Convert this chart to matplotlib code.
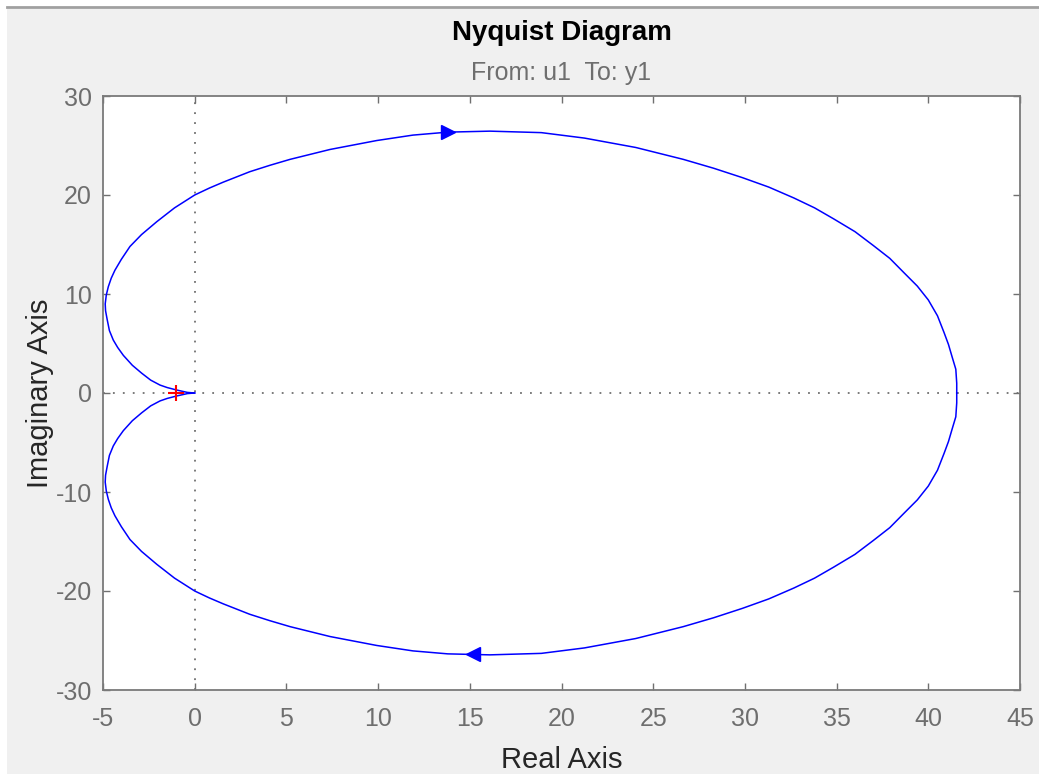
import numpy as np
import matplotlib.pyplot as plt
from matplotlib.patches import Rectangle
from matplotlib.lines import Line2D

plt.rcParams['font.family'] = ['Liberation Sans', 'DejaVu Sans']
plt.rcParams['axes.unicode_minus'] = False

# Nyquist curve
# upper branch (negative frequencies), from origin round to the real axis
re_upper = [0.0, -0.4, -0.98, -1.5, -1.89, -2.4, -2.89, -3.4, -3.89, -4.2, -4.44, -4.65,
            -4.77, -4.86, -4.88, -4.82, -4.71, -4.55, -4.35, -4.0, -3.53, -2.9, -2.07, -1.1,
            0.0, 0.8, 1.56, 3.0, 4.1, 5.2, 7.38, 9.92, 11.9, 13.8, 16.1, 18.9, 21.25, 24.05,
            26.64, 28.3, 29.87, 31.3, 32.67, 33.8, 34.83, 36.0, 37.0, 37.9, 38.7, 39.4, 40.0,
            40.5, 40.86, 41.1, 41.29, 41.5, 41.55, 41.55]
im_upper = [0.0, 0.06, 0.3, 0.55, 0.8, 1.3, 2.0, 2.8, 3.8, 4.6, 5.35, 6.3,
            7.4, 8.3, 9.0, 9.9, 10.74, 11.6, 12.4, 13.5, 14.8, 16.0, 17.3, 18.7,
            20.0, 20.7, 21.3, 22.35, 23.0, 23.6, 24.6, 25.5, 26.05, 26.35, 26.45, 26.3, 25.75, 24.8,
            23.6, 22.7, 21.75, 20.8, 19.7, 18.7, 17.6, 16.3, 14.9, 13.6, 12.1, 10.8, 9.4,
            7.8, 6.1, 4.9, 3.7, 2.4, 1.0, 0.0]
# lower branch (positive frequencies), from the real axis back to origin
re_lower = [41.55, 41.55, 41.5, 41.29, 41.1, 40.86, 40.5, 40.0, 39.4, 38.7, 37.9, 37.0,
            36.0, 34.83, 33.8, 32.67, 31.3, 29.87, 28.3, 26.64, 24.05, 21.25, 18.9, 16.1,
            13.8, 11.9, 9.92, 7.38, 5.2, 4.1, 3.0, 1.56, 0.8, 0.0, -1.1, -2.07, -2.9, -3.53,
            -4.0, -4.35, -4.55, -4.71, -4.82, -4.88, -4.86, -4.77, -4.65, -4.44, -4.2, -3.89,
            -3.4, -2.89, -2.4, -1.89, -1.5, -0.98, -0.4, 0.0]
im_lower = [0.0, -1.0, -2.4, -3.7, -4.9, -6.1, -7.8, -9.4, -10.8, -12.1, -13.6, -14.9,
            -16.3, -17.6, -18.7, -19.7, -20.8, -21.75, -22.7, -23.6, -24.8, -25.75, -26.3, -26.45,
            -26.35, -26.05, -25.5, -24.6, -23.6, -23.0, -22.35, -21.3, -20.7, -20.0, -18.7, -17.3,
            -16.0, -14.8, -13.5, -12.4, -11.6, -10.74, -9.9, -9.0, -8.3, -7.4, -6.3, -5.35, -4.6,
            -3.8, -2.8, -2.0, -1.3, -0.8, -0.55, -0.3, -0.06, 0.0]

arrow_upper = (13.8, 26.4)
arrow_lower = (15.2, -26.4)
critical = (-1, 0)

xticks = [-5, 0, 5, 10, 15, 20, 25, 30, 35, 40, 45]
yticks = [-30, -20, -10, 0, 10, 20, 30]

fig = plt.figure(figsize=(10.39, 7.74), dpi=100, facecolor='white')
fig.patches.append(Rectangle((7/1039, 0), 1, (774-9)/774, transform=fig.transFigure,
                             facecolor='#f0f0f0', edgecolor='none', zorder=-10))
fig.lines.append(Line2D([7/1039, 1], [(774-7)/774]*2, transform=fig.transFigure,
                        color='#a0a0a0', lw=2))

ax = fig.add_axes([103/1039, 84/774, 917/1039, 594/774])
ax.set_facecolor('white')

ax.axhline(0, color='#707070', lw=1.3, ls=(0, (1, 4.5)), zorder=1)
ax.axvline(0, color='#707070', lw=1.3, ls=(0, (1, 4.5)), zorder=1)

ax.plot(re_upper, im_upper, color='#0000ff', lw=1.1, zorder=3)
ax.plot(re_lower, im_lower, color='#0000ff', lw=1.1, zorder=3)
ax.plot(*arrow_upper, marker='>', color='#0000ff', ms=10, zorder=4)
ax.plot(*arrow_lower, marker='<', color='#0000ff', ms=10, zorder=4)
ax.plot(*critical, marker='+', color='red', ms=11, mew=1.5, zorder=5)

ax.set_xlim(-5, 45)
ax.set_ylim(-30, 30)
ax.set_xticks(xticks)
ax.set_yticks(yticks)
ax.tick_params(direction='in', length=5, width=1, colors='#707070', labelcolor='#6e6e6e',
               labelsize=18, top=True, right=True)
ax.tick_params(axis='x', pad=12)
ax.tick_params(axis='y', pad=8)
for s in ax.spines.values():
    s.set_color('#7a7a7a')
    s.set_linewidth(1.3)

ax.set_xlabel('Real Axis', fontsize=21, color='#262626', labelpad=11)
ax.set_ylabel('Imaginary Axis', fontsize=21, color='#262626', labelpad=1)
fig.text(0.5 * (103 + 1020) / 1039, 1 - 33/774, 'Nyquist Diagram', ha='center', va='center',
         fontsize=20, fontweight='bold', color='black')
fig.text(0.5 * (103 + 1020) / 1039, 1 - 73/774, 'From: u1  To: y1', ha='center', va='center',
         fontsize=18, color='#6e6e6e')

plt.savefig('out.png', dpi=100, facecolor=fig.get_facecolor())
